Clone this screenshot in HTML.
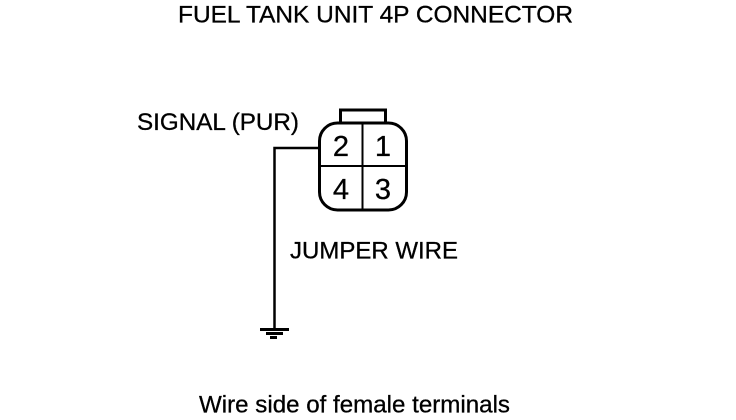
<!DOCTYPE html>
<html>
<head>
<meta charset="utf-8">
<style>
html,body{margin:0;padding:0;background:#fff;width:736px;height:420px;overflow:hidden}
svg{display:block}
text{font-family:"Liberation Sans",sans-serif;fill:#000;stroke:#000;stroke-width:.3}
</style>
</head>
<body>
<svg width="736" height="420" viewBox="0 0 736 420" xmlns="http://www.w3.org/2000/svg">
<text x="178" y="22.5" font-size="24" textLength="395" lengthAdjust="spacingAndGlyphs">FUEL TANK UNIT 4P CONNECTOR</text>
<text x="137" y="130" font-size="24" textLength="162" lengthAdjust="spacingAndGlyphs">SIGNAL (PUR)</text>
<text x="290" y="258.5" font-size="24" textLength="168" lengthAdjust="spacingAndGlyphs">JUMPER WIRE</text>
<text x="199" y="412.5" font-size="24" textLength="311" lengthAdjust="spacingAndGlyphs">Wire side of female terminals</text>
<g fill="none" stroke="#000">
<path d="M340.5 123V110H385.5V123" stroke-width="3"/>
<rect x="319.5" y="123" width="87" height="87" rx="18" ry="18" stroke-width="3"/>
<path d="M362.5 123V210M319.5 166H406.5" stroke-width="2"/>
<path d="M318 148H274.5V329" stroke-width="2.5"/>
</g>
<rect x="260" y="328" width="29" height="3"/>
<rect x="266" y="332" width="17" height="3"/>
<rect x="270" y="336" width="7" height="3"/>
<text x="341" y="156" font-size="29" text-anchor="middle">2</text>
<text x="383" y="156" font-size="29" text-anchor="middle">1</text>
<text x="341" y="199" font-size="29" text-anchor="middle">4</text>
<text x="383" y="199" font-size="29" text-anchor="middle">3</text>
</svg>
</body>
</html>
